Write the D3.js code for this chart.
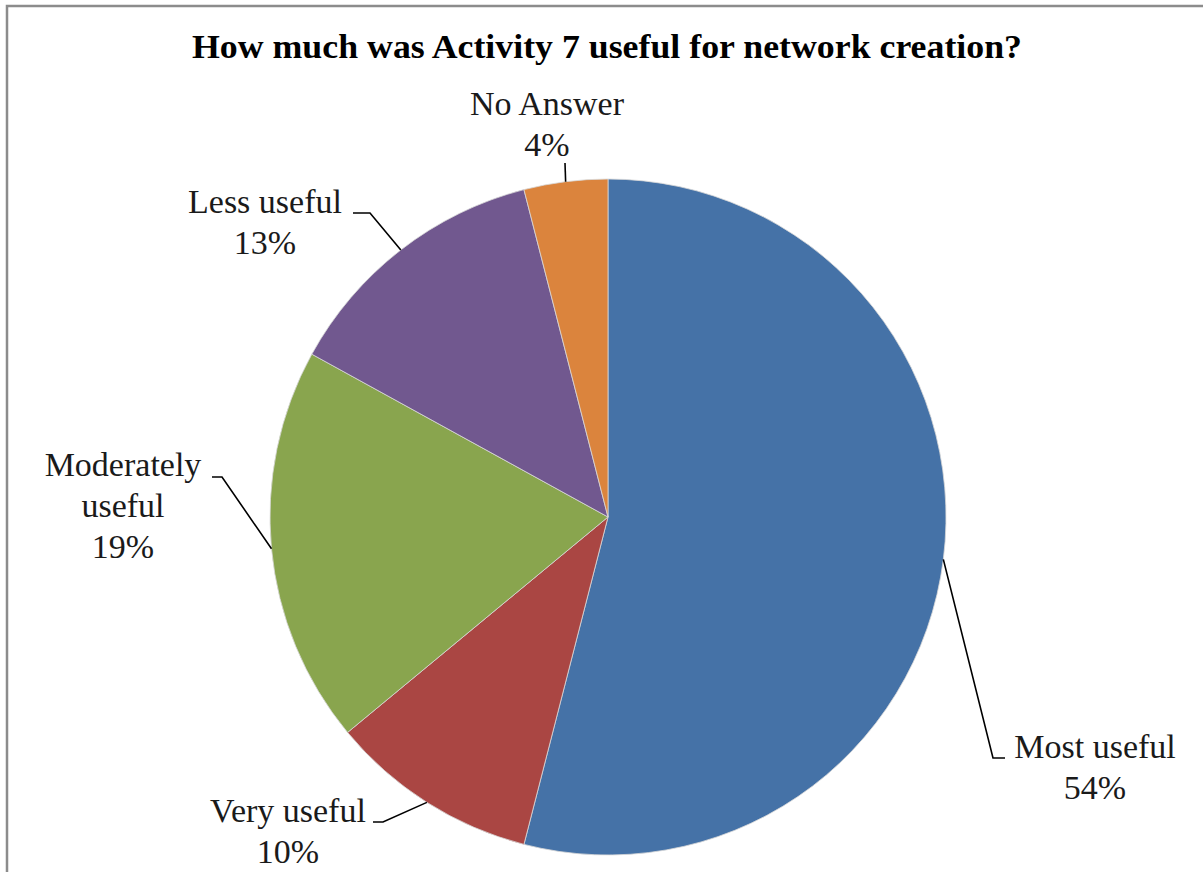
<!DOCTYPE html>
<html>
<head>
<meta charset="utf-8">
<script src="https://cdn.jsdelivr.net/npm/d3@7"></script>
<style>
  html, body { margin: 0; padding: 0; background: #fff; }
  svg { display: block; }
</style>
</head>
<body>
<svg id="chart" width="1203" height="872"></svg>
<script>
// Survey answers, in the clockwise order they are drawn from 12 o'clock
const categories = ["Most useful", "Very useful", "Moderately useful", "Less useful", "No Answer"];
const shares = [54, 10, 19, 13, 4];
const colors = ["#4572A7", "#AA4643", "#89A54E", "#71588F", "#DB843D"];
const labelLines = [["Most useful"], ["Very useful"], ["Moderately", "useful"], ["Less useful"], ["No Answer"]];
const chartTitle = "How much was Activity 7 useful for network creation?";

// Placement of each data label: text centre, first baseline, leader elbow and end
const labelLayout = [
  { cx: 1095, y: 758, elbow: [993, 758], end: [1005, 758] },
  { cx: 288,  y: 822, elbow: [383, 822], end: [373, 822] },
  { cx: 123,  y: 476, elbow: [222, 477], end: [212, 477] },
  { cx: 265,  y: 213, elbow: [370, 213], end: [353, 213] },
  { cx: 547,  y: 115, elbow: [565, 163], end: [565, 163] }
];

const svg = d3.select("#chart");
const cx = 608, cy = 517, radius = 338;
const lineGap = 41;
const serif = "'Liberation Serif', 'Times New Roman', serif";

// Chart area frame (runs off the right and bottom edges)
svg.append("rect")
  .attr("x", 7).attr("y", 6)
  .attr("width", 1300).attr("height", 1000)
  .attr("fill", "none")
  .attr("stroke", "#8c8c8c")
  .attr("stroke-width", 2.5);

svg.append("text")
  .attr("x", 192).attr("y", 58)
  .attr("font-family", serif)
  .attr("font-weight", "bold")
  .attr("font-size", 34)
  .attr("textLength", 830)
  .attr("lengthAdjust", "spacingAndGlyphs")
  .attr("fill", "#000")
  .text(chartTitle);

const data = categories.map((c, i) => ({ name: c, value: shares[i], color: colors[i], lines: labelLines[i], layout: labelLayout[i] }));

const pie = d3.pie().sort(null).value(d => d.value);
const arcs = pie(data);
const arc = d3.arc().innerRadius(0).outerRadius(radius);

const g = svg.append("g").attr("transform", `translate(${cx},${cy})`);

g.selectAll("path.slice")
  .data(arcs)
  .join("path")
  .attr("class", "slice")
  .attr("d", arc)
  .attr("fill", d => d.data.color)
  .attr("stroke", "#d8d8d8")
  .attr("stroke-width", 0.8);

// Leader lines start on the rim at each slice's middle angle
arcs.forEach(a => {
  const mid = (a.startAngle + a.endAngle) / 2;
  const sx = cx + radius * Math.sin(mid);
  const sy = cy - radius * Math.cos(mid);
  const L = a.data.layout;
  svg.append("path")
    .attr("d", d3.line()([[sx, sy], L.elbow, L.end]))
    .attr("fill", "none")
    .attr("stroke", "#000")
    .attr("stroke-width", 1.6);

  const t = svg.append("text")
    .attr("text-anchor", "middle")
    .attr("font-family", serif)
    .attr("font-size", 34)
    .attr("fill", "#1a1a1a");
  const lines = a.data.lines.concat([a.data.value + "%"]);
  lines.forEach((s, i) => {
    t.append("tspan").attr("x", L.cx).attr("y", L.y + i * lineGap).text(s);
  });
});
</script>
</body>
</html>
